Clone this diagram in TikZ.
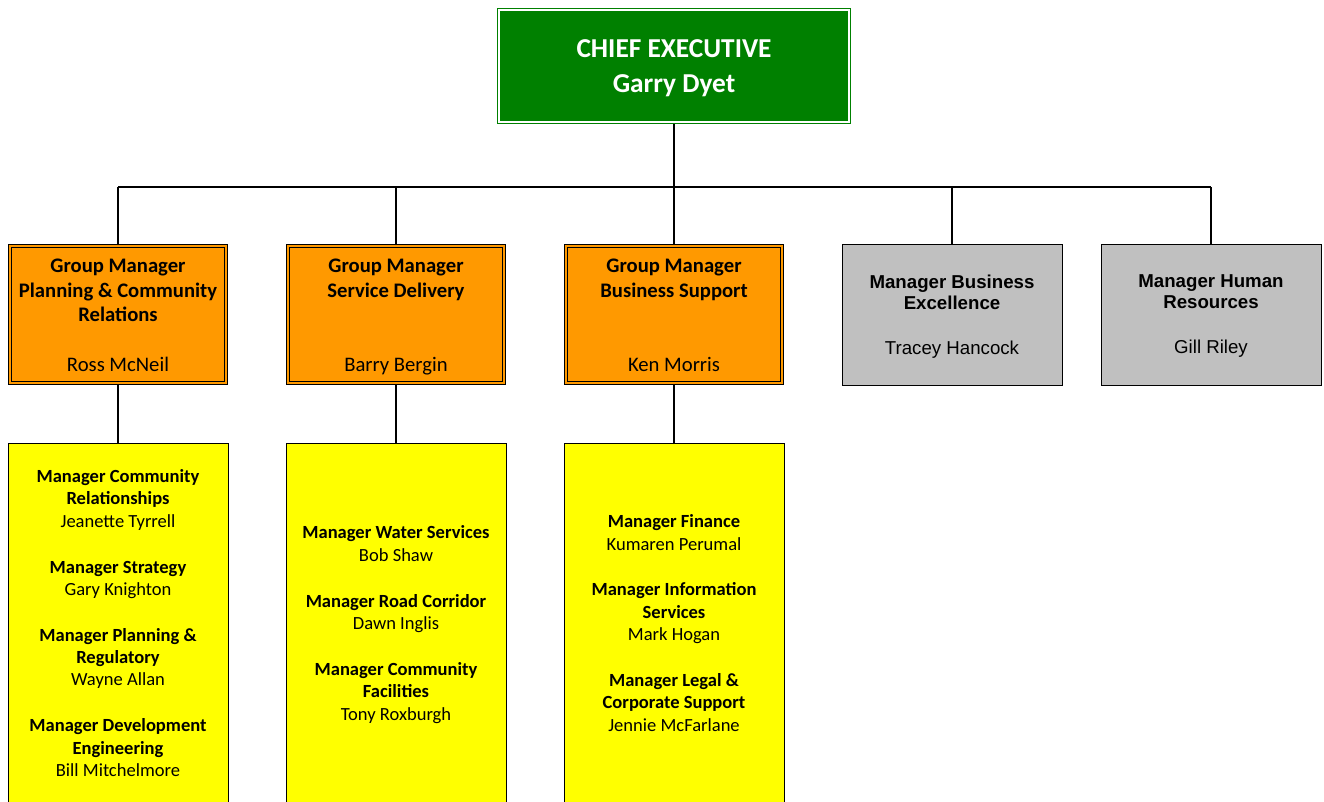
\documentclass[tikz,border=0pt]{standalone}
\usepackage{fontspec}
\setmainfont{Carlito}
\newfontfamily\arialfont{Liberation Sans}
\definecolor{cegreen}{HTML}{008000}
\definecolor{gmorange}{HTML}{FF9900}
\definecolor{staffgrey}{HTML}{C0C0C0}
\definecolor{teamyellow}{HTML}{FFFF00}
\begin{document}
\begin{tikzpicture}[x=0.75pt,y=-0.75pt]
    \tikzset{chief box/.style={draw=cegreen,fill=cegreen,double=white,double distance=1.2pt,line width=0.9pt,minimum width=262.5pt,minimum height=84pt,inner sep=0pt,outer sep=1.5pt,text=white,text depth=0pt,align=center,font=\fontsize{20.5}{26}\selectfont\bfseries},
      group box/.style={draw,fill=gmorange,double=gmorange,double distance=1.5pt,line width=0.75pt,minimum width=162pt,minimum height=102.75pt,inner sep=0pt,outer sep=1.5pt},
      group title/.style={anchor=north,align=center,inner sep=0pt,font=\fontsize{15.5}{18.4}\selectfont\bfseries},
      group name/.style={anchor=base,inner sep=0pt,font=\fontsize{15.5}{18.4}\selectfont},
      staff box/.style={draw,fill=staffgrey,line width=0.75pt,minimum width=165pt,minimum height=105.75pt,inner sep=0pt,text depth=0pt,align=center,font=\arialfont\fontsize{14}{15.75}\selectfont},
      team box/.style={draw,fill=teamyellow,line width=0.75pt,minimum width=165pt,minimum height=270pt,inner sep=0pt,text depth=0pt,align=center,font=\fontsize{13.9}{16.8}\selectfont},
      link/.style={line width=1pt}}

    \clip (0,0) rectangle (1324,801);

    \node [chief box] (CE) at (674,66) {CHIEF EXECUTIVE\\Garry Dyet};

    \node [group box] (GM1) at (118,314.5) {};
    \node [group box] (GM2) at (396,314.5) {};
    \node [group box] (GM3) at (674,314.5) {};
    \node [group title] at ([yshift=-11.25pt]GM1.north) (GM1-title) {Group Manager\\Planning \& Community\\Relations};
    \node [group title] at ([yshift=-11.25pt]GM2.north) (GM2-title) {Group Manager\\Service Delivery};
    \node [group title] at ([yshift=-11.25pt]GM3.north) (GM3-title) {Group Manager\\Business Support};
    \node [group name] at ([yshift=10.1pt]GM1.south) (GM1-name) {Ross McNeil};
    \node [group name] at ([yshift=10.1pt]GM2.south) (GM2-name) {Barry Bergin};
    \node [group name] at ([yshift=10.1pt]GM3.south) (GM3-name) {Ken Morris};

    \node [staff box] (MBE) at (952,314.5) {\textbf{Manager Business}\\\textbf{Excellence}\\[18pt]Tracey Hancock};
    \node [staff box] (MHR) at (1211,314.5) {\textbf{Manager Human}\\\textbf{Resources}\\[18pt]Gill Riley};

    \node [team box] (TM1) at (118,623) {\textbf{Manager Community}\\\textbf{Relationships}\\Jeanette Tyrrell\\[17.5pt]\textbf{Manager Strategy}\\Gary Knighton\\[17.5pt]\textbf{Manager Planning \&}\\\textbf{Regulatory}\\Wayne Allan\\[17.5pt]\textbf{Manager Development}\\\textbf{Engineering}\\Bill Mitchelmore};
    \node [team box] (TM2) at (396,623) {\textbf{Manager Water Services}\\Bob Shaw\\[17.5pt]\textbf{Manager Road Corridor}\\Dawn Inglis\\[17.5pt]\textbf{Manager Community}\\\textbf{Facilities}\\Tony Roxburgh};
    \node [team box] (TM3) at (674,623) {\textbf{Manager Finance}\\Kumaren Perumal\\[17.5pt]\textbf{Manager Information}\\\textbf{Services}\\Mark Hogan\\[17.5pt]\textbf{Manager Legal \&}\\\textbf{Corporate Support}\\Jennie McFarlane};

    \coordinate (bus) at (674,187);
    \draw [link] (CE.south) -- (bus);
    \draw [link] (GM1.north |- bus) -- (MHR.north |- bus);
    \foreach \n in {GM1,GM2,GM3,MBE,MHR}
      \draw [link] (\n.north) -- (\n.north |- bus);
    \foreach \n in {1,2,3}
      \draw [link] (GM\n.south) -- (TM\n.north);
  \end{tikzpicture}
\end{document}
